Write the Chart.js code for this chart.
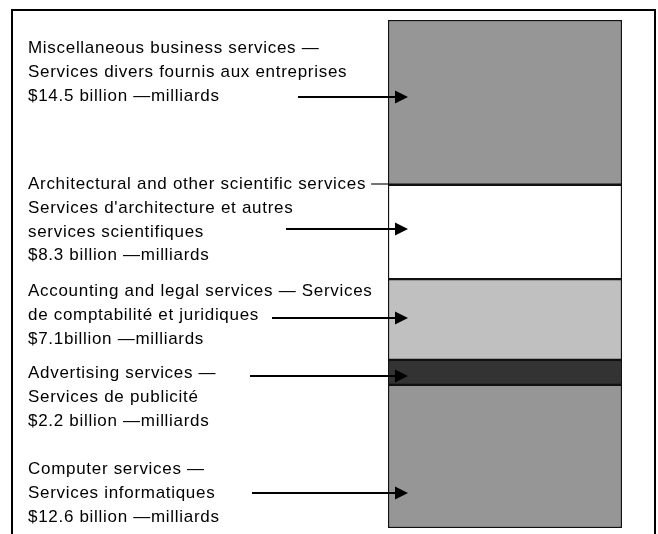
<!DOCTYPE html>
<html>
<head>
<meta charset="utf-8">
<script src="https://cdn.jsdelivr.net/npm/chart.js@4"></script>
<style>
  html, body { margin: 0; padding: 0; background: #fff; }
  canvas { display: block; }
</style>
</head>
<body>
<canvas id="chart" width="658" height="534"></canvas>
<script>
// bottom to top, billions of dollars
const categories = ['Computer services', 'Advertising services', 'Accounting and legal services',
                    'Architectural and other scientific services', 'Miscellaneous business services'];
const values = [12.6, 2.2, 7.1, 8.3, 14.5];
const fills = ['#969696', '#333333', '#c0c0c0', '#ffffff', '#969696'];

const labelLines = [
    ['Computer services \u2014', 'Services informatiques', '$12.6 billion \u2014milliards'],
    ['Advertising services \u2014', 'Services de publicit\u00e9', '$2.2 billion \u2014milliards'],
    ['Accounting and legal services \u2014 Services', 'de comptabilit\u00e9 et juridiques', '$7.1billion \u2014milliards'],
    ['Architectural and other scientific services', 'Services d\'architecture et autres', 'services scientifiques', '$8.3 billion \u2014milliards'],
    ['Miscellaneous business services \u2014', 'Services divers fournis aux entreprises', '$14.5 billion \u2014milliards']
];

// where each text block and its arrow sit (page pixels)
const textTop = [474, 378, 296, 189, 53];
const arrowY = [493, 376, 318, 229, 97];
const arrowStart = [252, 250, 272, 286, 298];
const lineGap = 23.8;

const calloutPlugin = {
    id: 'callouts',
    afterDraw(chart) {
        const ctx = chart.ctx;
        const bar = chart.getDatasetMeta(0).data[0];
        const barLeft = bar.x - bar.width / 2;
        const tip = barLeft + 20;

        ctx.save();
        // frame
        ctx.strokeStyle = '#000';
        ctx.lineWidth = 2;
        ctx.strokeRect(12, 10, 643, 600);

        ctx.font = '17px "Liberation Sans", Arial, sans-serif';
        ctx.letterSpacing = '0.7px';
        ctx.fillStyle = '#000';
        ctx.textBaseline = 'alphabetic';
        labelLines.forEach((lines, i) => {
            lines.forEach((t, j) => ctx.fillText(t, 28, textTop[i] + j * lineGap));

            ctx.lineWidth = 2;
            ctx.beginPath();
            ctx.moveTo(arrowStart[i], arrowY[i]);
            ctx.lineTo(tip - 12, arrowY[i]);
            ctx.stroke();
            ctx.beginPath();
            ctx.moveTo(tip, arrowY[i]);
            ctx.lineTo(tip - 13, arrowY[i] - 6.5);
            ctx.lineTo(tip - 13, arrowY[i] + 6.5);
            ctx.closePath();
            ctx.fill();
        });

        // dash joining the architectural label to the bar
        const w = ctx.measureText(labelLines[3][0]).width;
        ctx.strokeStyle = '#444';
        ctx.lineWidth = 1.5;
        ctx.beginPath();
        ctx.moveTo(28 + w + 5, textTop[3] - 5);
        ctx.lineTo(barLeft, textTop[3] - 5);
        ctx.stroke();
        ctx.restore();
    }
};

new Chart(document.getElementById('chart'), {
    type: 'bar',
    data: {
        labels: ['Services'],
        datasets: categories.map((c, i) => ({
            label: c,
            data: [values[i]],
            backgroundColor: fills[i],
            borderColor: '#111',
            borderWidth: 1.5,
            borderSkipped: false,
            barPercentage: 1,
            categoryPercentage: 1
        }))
    },
    options: {
        responsive: false,
        animation: false,
        layout: { padding: { left: 388, right: 36, top: 20, bottom: 6 } },
        plugins: { legend: { display: false }, tooltip: { enabled: false } },
        scales: {
            x: { stacked: true, display: false },
            y: { stacked: true, display: false, min: 0, max: 44.7 }
        }
    },
    plugins: [calloutPlugin]
});
</script>
</body>
</html>
